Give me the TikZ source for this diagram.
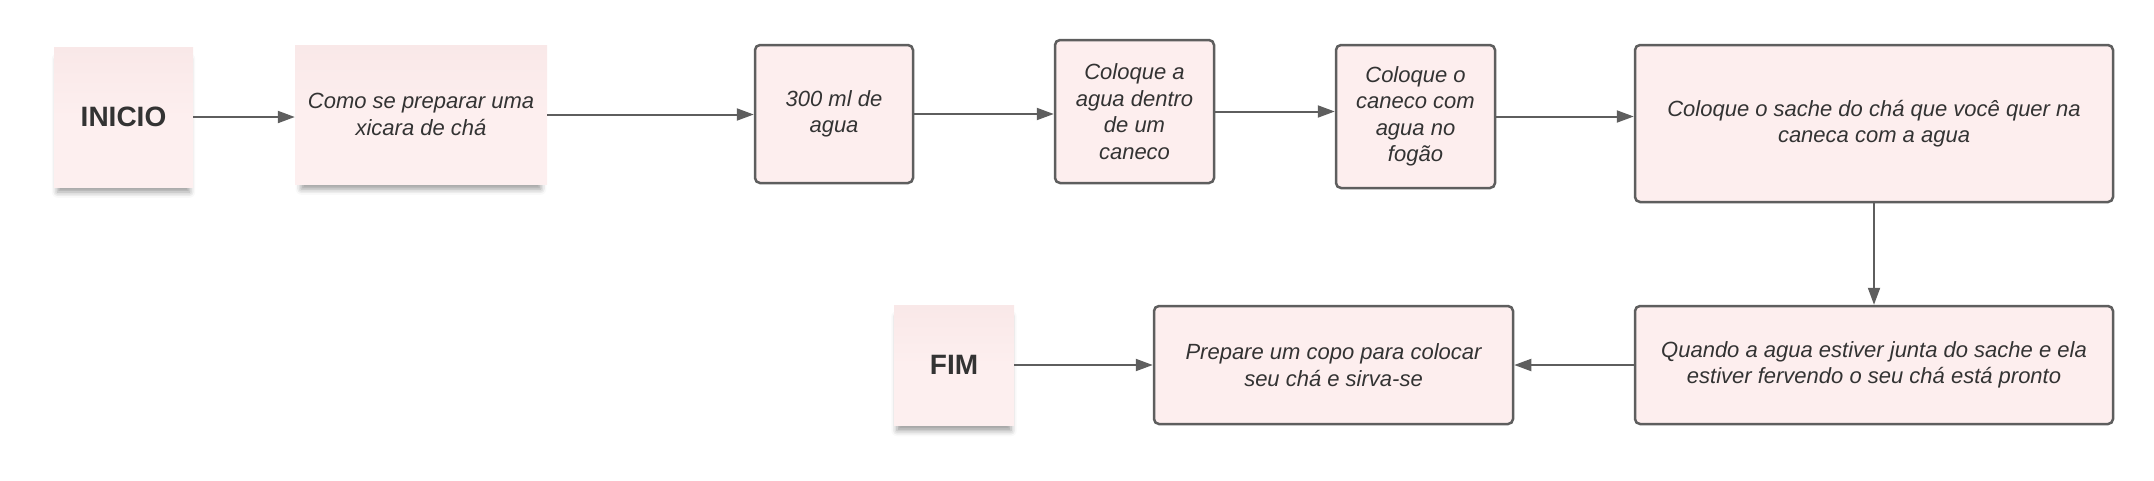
\documentclass[tikz,border=0pt]{standalone}
\usepackage{fontspec}
\setmainfont{Liberation Sans}
\usetikzlibrary{arrows.meta,shadows.blur}
\definecolor{boxfill}{HTML}{FDEEEE}
\definecolor{stickyfill}{HTML}{FDEFEF}
\definecolor{stickytop}{HTML}{F9E8E8}
\definecolor{edgegray}{HTML}{5E5E5E}
\definecolor{ink}{HTML}{333333}
\tikzset{
  flowbox/.style={draw=edgegray, line width=2.5pt, fill=boxfill, rounded corners=5pt,
    align=center, text=ink, font=\fontsize{22pt}{26.5pt}\selectfont\itshape, inner sep=0pt},
  sticky/.style={top color=stickytop, bottom color=stickyfill, middle color=stickyfill,
    align=center, text=ink, inner sep=0pt,
    blur shadow={shadow xshift=0pt, shadow yshift=-9pt, shadow scale=0.95,
      shadow blur radius=6pt, shadow opacity=40}},
  stickytitle/.style={font=\fontsize{28pt}{32pt}\selectfont\bfseries},
  stickytext/.style={font=\fontsize{22pt}{26.5pt}\selectfont\itshape},
  link/.style={draw=edgegray, line width=2pt, -{Triangle[length=17pt,width=12pt]}},
}
\begin{document}
\begin{tikzpicture}[x=1pt,y=-1pt]
\useasboundingbox (0,0) rectangle (2154,480);
% sticky notes
\node[sticky, stickytitle, minimum width=139pt, minimum height=140pt] (inicio) at (123.5,117) {INICIO};
\node[sticky, stickytext, minimum width=252pt, minimum height=139pt] (como) at (421,114.5) {Como se preparar uma\\xicara de chá};
\node[sticky, stickytitle, minimum width=120pt, minimum height=120pt] (fim) at (954,365) {FIM};
% process boxes
\node[flowbox, minimum width=158pt, minimum height=138pt] (agua) at (834,114) {300 ml de\\agua};
\node[flowbox, minimum width=159pt, minimum height=143pt] (dentro) at (1134.5,111.5) {Coloque a\\agua dentro\\de um\\caneco};
\node[flowbox, minimum width=159pt, minimum height=143pt] (fogao) at (1415.5,116.5) {Coloque o\\caneco com\\agua no\\fogão};
\node[flowbox, minimum width=478pt, minimum height=157pt] (sache) at (1874,123.5) {Coloque o sache do chá que você quer na\\caneca com a agua};
\node[flowbox, minimum width=478pt, minimum height=118pt] (pronto) at (1874,365) {Quando a agua estiver junta do sache e ela\\estiver fervendo o seu chá está pronto};
\node[flowbox, minimum width=359pt, minimum height=118pt] (copo) at (1333.5,365) {Prepare um copo para colocar\\seu chá e sirva-se};
% connectors
\draw[link] (inicio.east) -- (inicio.east -| como.west);
\draw[link] (como.east) -- (como.east -| agua.west);
\draw[link] (agua.east) -- (agua.east -| dentro.west);
\draw[link] (dentro.east) -- (dentro.east -| fogao.west);
\draw[link] (fogao.east) -- (fogao.east -| sache.west);
\draw[link] (sache.south) -- (pronto.north);
\draw[link] (pronto.west) -- (copo.east);
\draw[link] (fim.east) -- (copo.west);
\end{tikzpicture}
\end{document}
